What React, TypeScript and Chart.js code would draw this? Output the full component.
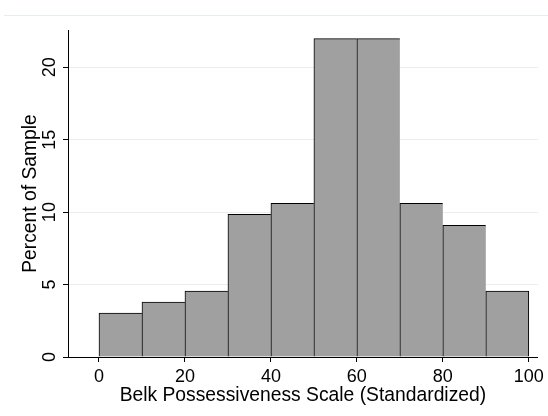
import React, { useEffect, useRef } from "react";
import { Chart, registerables } from "chart.js";

Chart.register(...registerables);

const binCenters = [5, 15, 25, 35, 45, 55, 65, 75, 85, 95];
const percentOfSample = [3.03, 3.79, 4.55, 9.85, 10.61, 21.97, 21.97, 10.61, 9.09, 4.55];
const xTicks = [0, 20, 40, 60, 80, 100];
const yTicks = [0, 5, 10, 15, 20];
const xTitle = "Belk Possessiveness Scale (Standardized)";
const yTitle = "Percent of Sample";

const FONT = "'Liberation Sans', Arial, Helvetica, sans-serif";

const topRule = {
  id: "topRule",
  beforeDraw(chart: any) {
    const ctx = chart.ctx;
    ctx.save();
    ctx.strokeStyle = "#e4ecef";
    ctx.lineWidth = 1;
    ctx.beginPath();
    ctx.moveTo(4, 15.5);
    ctx.lineTo(548, 15.5);
    ctx.stroke();
    ctx.restore();
  },
};

export default function App() {
  const ref = useRef<HTMLCanvasElement | null>(null);
  useEffect(() => {
    if (!ref.current) return;
    const last = binCenters.length - 1;
    const chart = new Chart(ref.current, {
      type: "bar",
      data: {
        datasets: [
          {
            data: binCenters.map((c, i) => ({ x: c, y: percentOfSample[i] })),
            backgroundColor: "#a0a0a0",
            borderColor: "#000000",
            borderWidth: (ctx: any) => ({
              top: 1,
              left: 1,
              right: ctx.dataIndex === last ? 1 : 0,
              bottom: 0,
            }),
            borderSkipped: false,
            barPercentage: 1,
            categoryPercentage: 1,
          } as any,
        ],
      },
      options: {
        animation: false,
        responsive: false,
        devicePixelRatio: 1,
        layout: { padding: { top: 30, right: 10, left: 0, bottom: 0 } },
        plugins: { legend: { display: false }, tooltip: { enabled: false } },
        scales: {
          x: {
            type: "linear",
            offset: false,
            min: -7.209,
            max: 102.093,
            afterFit: (s: any) => {
              s.height = 59;
            },
            afterBuildTicks: (s: any) => {
              s.ticks = xTicks.map((v) => ({ value: v }));
            },
            grid: {
              offset: false,
              drawOnChartArea: false,
              drawTicks: true,
              tickLength: 5,
              tickColor: "#000",
              color: "#000",
            },
            border: { display: true, color: "#000", width: 1 },
            ticks: {
              color: "#000",
              font: { family: FONT, size: 18 },
              padding: 4,
              maxRotation: 0,
              minRotation: 0,
              autoSkip: false,
            },
            title: {
              display: true,
              text: xTitle,
              color: "#000",
              font: { family: FONT, size: 19.3 },
              padding: { top: 0, bottom: 8.6 },
            },
          },
          y: {
            type: "linear",
            min: 0,
            max: 22.57,
            afterFit: (s: any) => {
              s.width = 68;
            },
            afterBuildTicks: (s: any) => {
              s.ticks = yTicks.map((v) => ({ value: v }));
            },
            grid: {
              drawOnChartArea: true,
              drawTicks: true,
              tickLength: 5,
              tickColor: "#000",
              color: "#e6eef1",
              lineWidth: 1,
            },
            border: { display: true, color: "#000", width: 1 },
            ticks: {
              color: "#000",
              font: { family: FONT, size: 18 },
              padding: 3,
              minRotation: 90,
              maxRotation: 90,
              crossAlign: "center",
              autoSkip: false,
            },
            title: {
              display: true,
              text: yTitle,
              color: "#000",
              font: { family: FONT, size: 19.3 },
              padding: { top: 18.6, bottom: 0 },
            },
          },
        },
      } as any,
      plugins: [topRule],
    });
    return () => chart.destroy();
  }, []);
  return (
    <div style={{ position: "fixed", left: 0, top: 0, width: 548, height: 416, background: "#fff" }}>
      <canvas ref={ref} width={548} height={416} style={{ width: 548, height: 416, display: "block" }} />
    </div>
  );
}
